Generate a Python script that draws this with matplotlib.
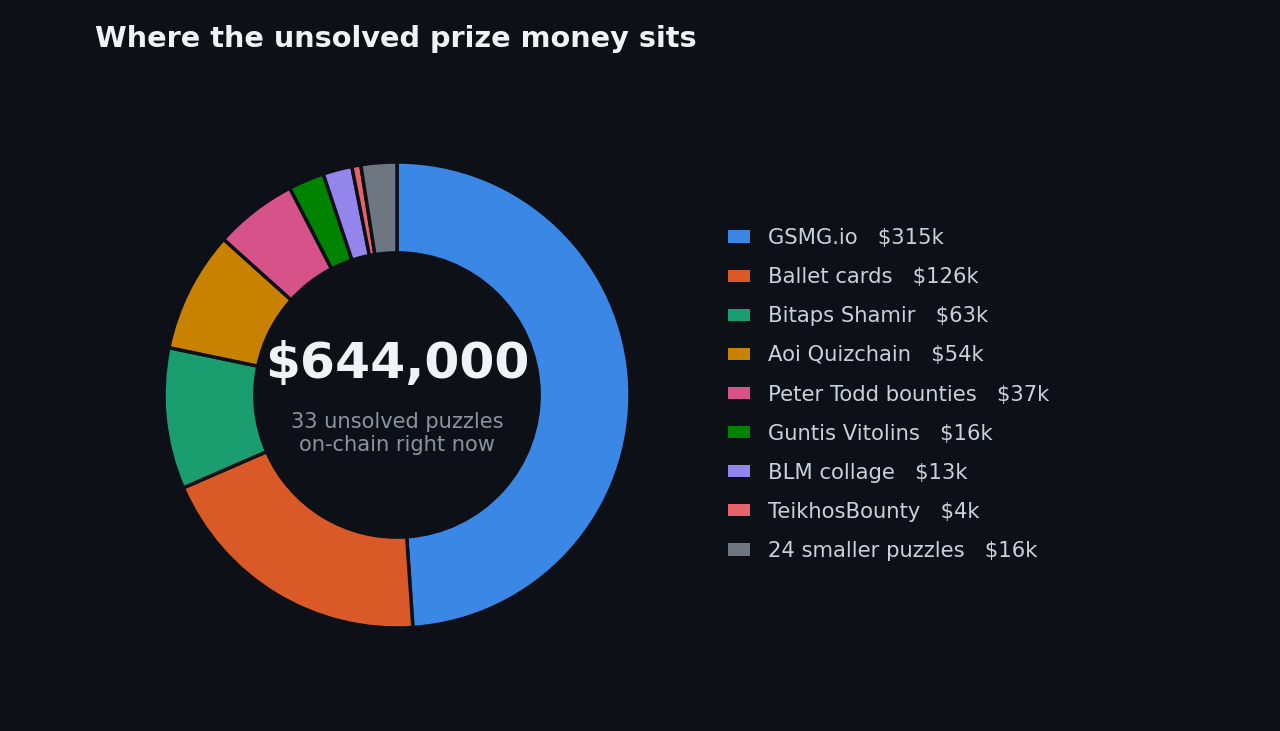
import matplotlib
matplotlib.use("Agg")
import matplotlib.pyplot as plt

names = ["GSMG.io", "Ballet cards", "Bitaps Shamir", "Aoi Quizchain", "Peter Todd bounties",
         "Guntis Vitolins", "BLM collage", "TeikhosBounty", "24 smaller puzzles"]
values_k = [315, 126, 63, 54, 37, 16, 13, 4, 16]
colors = ["#3a87e5", "#d95927", "#1b9e6f", "#c98200", "#d65289", "#008400", "#9385ec", "#e5646a", "#6e7681"]
title = "Where the unsolved prize money sits"
total_label = "$644,000"
sub_label = "33 unsolved puzzles\non-chain right now"

BG = "#0d1117"
fig = plt.figure(figsize=(12.8, 7.31), dpi=100, facecolor=BG)
W, H = 1280, 731
cx, cy, r = 397, 395, 233
ax = fig.add_axes([(cx - r) / W, (H - cy - r) / H, 2 * r / W, 2 * r / H])
ax.set_facecolor(BG)
wedges, _ = ax.pie(values_k, colors=colors, startangle=90, counterclock=False, radius=1.0,
                   wedgeprops=dict(width=0.39, edgecolor=BG, linewidth=2.5))
ax.set_xlim(-1, 1)
ax.set_ylim(-1, 1)
ax.set_aspect("equal")
ax.axis("off")

ax.text(0, 0.135, total_label, ha="center", va="center", fontsize=36.3, fontweight="bold", color="#f0f3f6")
ax.text(0, -0.165, sub_label, ha="center", va="center", fontsize=15.1, color="#8b949e", linespacing=1.2)

fig.text(95 / W, 1 - 39 / H, title, ha="left", va="center", fontsize=20.7, fontweight="bold", color="#f0f3f6")

labels = [f"{n}   ${v}k" for n, v in zip(names, values_k)]
leg = fig.legend(wedges, labels, loc="center left", bbox_to_anchor=(728 / W, 1 - 394.5 / H),
                 frameon=False, fontsize=15.2, labelcolor="#c9d1d9", handlelength=1.04,
                 handleheight=0.52, handletextpad=0.85, labelspacing=0.905, borderpad=0, borderaxespad=0)
for h in leg.legend_handles:
    h.set_linewidth(0)

fig.savefig("out.png", dpi=100, facecolor=BG)
